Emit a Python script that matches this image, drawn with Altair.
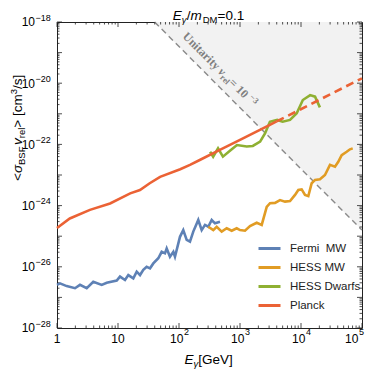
import math
import altair as alt
import pandas as pd

# ---------------- data (log10 values) ----------------
fermi_logE = [0.0, 0.049, 0.159, 0.295, 0.377, 0.487, 0.595, 0.733, 0.815, 0.979, 1.033, 1.115,
              1.169, 1.251, 1.307, 1.361, 1.415, 1.470, 1.525, 1.579, 1.661, 1.716, 1.770, 1.798,
              1.852, 1.907, 1.934, 2.016, 2.070, 2.126, 2.180, 2.234, 2.316, 2.372, 2.426, 2.480,
              2.536, 2.590, 2.672]
fermi_logS = [-26.59, -26.54, -26.63, -26.70, -26.59, -26.70, -26.49, -26.59, -26.52, -26.45, -26.32, -26.43,
              -26.27, -26.38, -26.16, -26.27, -26.10, -26.00, -26.05, -25.89, -25.72, -25.51, -25.56, -25.40,
              -25.67, -25.51, -25.67, -25.02, -24.80, -25.12, -25.18, -24.85, -24.47, -24.80, -24.63, -24.69,
              -24.47, -24.58, -24.53]

hessmw_logE = [2.480, 2.562, 2.618, 2.700, 2.782, 2.864, 2.946, 3.000, 3.082, 3.164, 3.274, 3.356,
               3.438, 3.492, 3.574, 3.656, 3.738, 3.820, 3.902, 3.956, 4.011, 4.066, 4.120, 4.175,
               4.230, 4.311, 4.393, 4.475, 4.557, 4.611, 4.667, 4.749, 4.803, 4.848]
hessmw_logS = [-24.69, -24.80, -24.69, -24.85, -24.74, -24.82, -24.74, -24.80, -24.82, -24.67, -24.56, -24.63,
               -24.04, -23.92, -23.91, -23.82, -23.87, -23.85, -23.65, -23.49, -23.47, -23.65, -23.69, -23.27,
               -23.16, -23.14, -23.00, -22.67, -22.73, -22.57, -22.35, -22.24, -22.16, -22.13]

hessdw_logE = [2.51, 2.56, 2.64, 2.72, 2.84, 2.95, 3.11, 3.21, 3.33, 3.41, 3.49, 3.61, 3.70, 3.82,
               3.93, 4.03, 4.15, 4.23, 4.31]
hessdw_logS = [-22.24, -22.40, -22.13, -22.40, -22.20, -22.02, -22.07, -22.05, -21.91, -21.64, -21.26,
               -21.20, -21.26, -21.20, -20.98, -20.55, -20.39, -20.44, -20.79]

planck_logE = [0.0, 0.21, 0.54, 0.87, 1.20, 1.36, 1.52, 1.69, 2.02, 2.18, 2.34, 2.67, 3.0, 3.49, 3.6]
planck_logS = [-24.73, -24.42, -24.14, -23.93, -23.60, -23.49, -23.27, -23.06, -22.81, -22.67, -22.51,
               -22.18, -21.85, -21.36, -21.25]
planck_proj_logE = [3.6, 5.0]
planck_proj_logS = [-21.25, -19.84]

unitarity_logE = [1.6, 5.0]
unitarity_logS = [-18.0, -24.8]

series_names = ["Fermi\u00a0 MW", "HESS MW", "HESS Dwarfs", "Planck"]
series_colors = ["#5E81B5", "#E19C24", "#8FB032", "#EB6235"]

x_major = [0, 1, 2, 3, 4, 5]
y_major = list(range(-28, -17))
y_labeled = [-18, -20, -22, -24, -26, -28]

# ---------------- layout ----------------
W, H = 305, 306
SANS = "Liberation Sans"
SERIF = "Liberation Serif"

xscale = alt.Scale(type="log", domain=[1, 1e5], nice=False)
yscale = alt.Scale(type="log", domain=[1e-28, 1e-18], nice=False)

def X(f):
    return alt.X(f, type="quantitative", scale=xscale, axis=None)

def Y(f):
    return alt.Y(f, type="quantitative", scale=yscale, axis=None)

rows = []
for name, le, ls in zip(series_names,
                        [fermi_logE, hessmw_logE, hessdw_logE, planck_logE],
                        [fermi_logS, hessmw_logS, hessdw_logS, planck_logS]):
    for a, b in zip(le, ls):
        rows.append({"series": name, "E": 10 ** a, "S": 10 ** b})
lines_df = pd.DataFrame(rows)

proj_df = pd.DataFrame({"E": [10 ** a for a in planck_proj_logE], "S": [10 ** b for b in planck_proj_logS]})
unit_df = pd.DataFrame({"E": [10 ** a for a in unitarity_logE], "S": [10 ** b for b in unitarity_logS],
                        "top": [1e-18] * len(unitarity_logE)})

layers = []
layers.append(alt.Chart(unit_df).mark_area(color="#f2f2f2", opacity=1).encode(
    x=X("E"), y=Y("S"), y2=alt.Y2("top")))
layers.append(alt.Chart(unit_df).mark_line(color="#8a8a8a", strokeDash=[6, 4], strokeWidth=1.4).encode(
    x=X("E"), y=Y("S")))

# ticks (all four sides)
xmaj = [10 ** d for d in x_major]
xmin = [k * 10 ** d for d in x_major[:-1] for k in range(2, 10)]
ymaj = [10.0 ** d for d in y_major]
ymin = [k * 10.0 ** d for d in y_major[:-1] for k in range(2, 10)]
TC = "#222222"
for vals, L in [(xmaj, 5), (xmin, 2.5)]:
    df = pd.DataFrame({"v": vals})
    layers.append(alt.Chart(df).mark_rule(color=TC, strokeWidth=0.8).encode(
        x=X("v"), y=alt.value(H), y2=alt.value(H - L)))
    layers.append(alt.Chart(df).mark_rule(color=TC, strokeWidth=0.8).encode(
        x=X("v"), y=alt.value(0), y2=alt.value(L)))
for vals, L in [(ymaj, 5), (ymin, 2.5)]:
    df = pd.DataFrame({"v": vals})
    layers.append(alt.Chart(df).mark_rule(color=TC, strokeWidth=0.8).encode(
        y=Y("v"), x=alt.value(0), x2=alt.value(L)))
    layers.append(alt.Chart(df).mark_rule(color=TC, strokeWidth=0.8).encode(
        y=Y("v"), x=alt.value(W), x2=alt.value(W - L)))

# data lines
layers.append(alt.Chart(lines_df).mark_line(strokeWidth=2.6).encode(
    x=X("E"), y=Y("S"),
    color=alt.Color("series:N", scale=alt.Scale(domain=series_names, range=series_colors),
                    sort=series_names,
                    legend=alt.Legend(orient="none", legendX=200, legendY=214, title=None,
                                      symbolType="stroke", symbolSize=484, symbolStrokeWidth=3,
                                      labelFontSize=11.5, labelFont=SANS, labelColor="#222",
                                      labelOffset=8, rowPadding=0, padding=0))))
layers.append(alt.Chart(proj_df).mark_line(strokeWidth=2.6, color="#EB6235", strokeDash=[8, 5]).encode(
    x=X("E"), y=Y("S")))

# tick labels
ylab = pd.DataFrame({"v": [10.0 ** d for d in y_labeled], "exp": ["\u2212%d" % (-d) for d in y_labeled]})
layers.append(alt.Chart(ylab).mark_text(align="right", baseline="alphabetic", fontSize=12, font=SANS,
                                        dy=4.3, color="black").encode(
    y=Y("v"), x=alt.value(-22), text=alt.value("10")))
layers.append(alt.Chart(ylab).mark_text(align="left", baseline="alphabetic", fontSize=9, font=SANS,
                                        dy=-1.5, color="black").encode(
    y=Y("v"), x=alt.value(-21.5), text="exp:N"))

xl_plain = pd.DataFrame({"v": [1, 10], "t": ["1", "10"]})
layers.append(alt.Chart(xl_plain).mark_text(align="center", baseline="alphabetic", fontSize=12, font=SANS,
                                            color="black").encode(
    x=X("v"), y=alt.value(H + 15), text="t:N"))
for exps, shift in [([2, 3, 4], 0), ([5], -8)]:
    df = pd.DataFrame({"v": [10.0 ** e for e in exps], "e": [str(e) for e in exps]})
    layers.append(alt.Chart(df).mark_text(align="right", baseline="alphabetic", fontSize=12, font=SANS,
                                          dx=4.4 + shift, color="black").encode(
        x=X("v"), y=alt.value(H + 15), text=alt.value("10")))
    layers.append(alt.Chart(df).mark_text(align="left", baseline="alphabetic", fontSize=9, font=SANS,
                                          dx=4.9 + shift, color="black").encode(
        x=X("v"), y=alt.value(H + 7), text="e:N"))

# ---------------- composed rich text ----------------
NB = "\u00a0"
SANS_W = {' ': 278, NB: 278, '<': 584, '>': 584, '[': 278, ']': 278, '/': 278, '=': 584, '.': 278, '\u2212': 584,
          'B': 667, 'S': 667, 'F': 611, 'D': 722, 'M': 833, 'E': 667, 'G': 778, 'V': 667, 'e': 556,
          'r': 333, 'l': 222, 'c': 500, 'm': 833, 's': 500, 'v': 500, '\u03c3': 600, '\u03b3': 520}
SERIF_W = {' ': 250, NB: 250, 'U': 722, 'n': 556, 'i': 278, 't': 333, 'a': 500, 'r': 444, 'y': 500, 'v': 444,
           'e': 444, 'l': 278, '=': 570, '1': 500, '0': 500, '\u2212': 570, '3': 500}

def tw(text, size, table):
    return sum(table.get(c, 556) for c in text) * size / 1000.0

dummy = pd.DataFrame({"a": [0]})

def rich(segs, x0, y0, angle=0, font=SANS, table=SANS_W, color="black", anchor="left", weight="normal"):
    th = math.radians(angle)
    d = (math.cos(th), math.sin(th))
    u = (math.sin(th), -math.cos(th))
    total = sum(tw(s[0], s[1], table) + (s[4] if len(s) > 4 else 0) for s in segs)
    adv = -total / 2 if anchor == "center" else 0
    out = []
    for s in segs:
        text, size, style, shift = s[0], s[1], s[2], s[3]
        gap = s[4] if len(s) > 4 else 0
        adv += gap
        x = x0 + adv * d[0] + shift * u[0]
        y = y0 + adv * d[1] + shift * u[1]
        out.append(alt.Chart(dummy).mark_text(text=text, fontSize=size, font=font, fontStyle=style,
                                               fontWeight=weight, angle=angle % 360, align="left",
                                               baseline="alphabetic", color=color).encode(
            x=alt.value(x), y=alt.value(y)))
        adv += tw(text, size, table)
    return out

# title
layers += rich([("E", 13.5, "italic", 0), ("\u03b3", 9.5, "italic", -3), ("/", 13.5, "normal", 0),
                ("m", 13.5, "italic", 0), ("DM", 9.5, "normal", -3, 1), ("=0.1", 13.5, "normal", 0)],
               W / 2 - 1, -2, anchor="center")
# x title
layers += rich([("E", 13.5, "italic", 0), ("\u03b3", 9.5, "italic", -2.5), (NB + "[GeV]", 13.5, "normal", 0)],
               W / 2 + 1, 342, anchor="center")
# y title
layers += rich([("<", 13.5, "normal", 0), ("\u03c3", 13.5, "italic", 0), ("BSF", 9.5, "normal", -3),
                ("v", 13.5, "italic", 0, 1.5), ("rel", 9.5, "normal", -3), (">" + NB + "[cm", 13.5, "normal", 0),
                ("3", 9.5, "normal", 5), ("/s]", 13.5, "normal", 0)],
               -35.5, 159, angle=270)
# unitarity annotation
layers += rich([("Unitarity", 12, "normal", 0), ("v", 12, "italic", 0, 3), ("rel", 8.5, "normal", -2.5),
                (NB + "=" + NB + "10", 12, "normal", 0), ("\u22123", 8.5, "normal", 4.5)],
               125, 15, angle=45, font=SERIF, table=SERIF_W, color="#7f7f7f", weight="bold")

chart = alt.layer(*layers).properties(
    width=W, height=H,
    padding={"left": 49, "top": 14, "right": 4, "bottom": 42},
    autosize=alt.AutoSizeParams(type="none"),
).configure_view(stroke="#222222", strokeWidth=1)

chart.save("out.html", embed_options={"renderer": "svg", "actions": False})
